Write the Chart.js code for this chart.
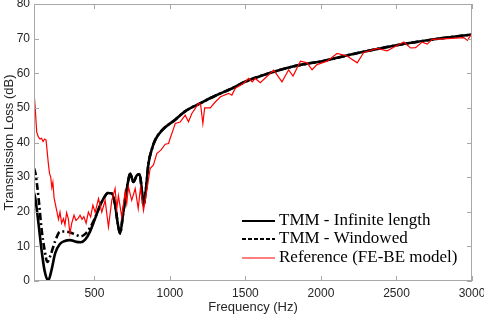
<!DOCTYPE html>
<html lang="en">
<head>
    <meta charset="UTF-8">
    <title>Transmission Loss</title>
    <script src="https://cdn.jsdelivr.net/npm/chart.js"></script>
    <style>
        body { margin: 0; background: #fff; }
        #wrap { width: 484px; height: 317px; }
    </style>
</head>
<body>
    <div id="wrap"><canvas id="tl"></canvas></div>

    <script>
        // TMM - Infinite length
        const freqInfinite = [100, 110, 130, 150, 170, 195, 215, 240, 270, 300, 340, 380, 410, 440, 470, 500, 530, 560, 590, 615, 635, 655, 670, 690, 715, 737, 758, 781, 800, 812, 825, 840, 858, 880, 902, 947, 1035, 1100, 1200, 1300, 1410, 1500, 1600, 1700, 1800, 1900, 2000, 2250, 2500, 2750, 3000];
        const tlInfinite = [25.5, 23.5, 16.5, 9, 3, 0.2, 3, 8, 10.6, 11.5, 11.8, 11.3, 11.2, 12, 14.2, 17.5, 21, 23.8, 25.4, 25.3, 22.5, 16.5, 13.7, 19.5, 26.7, 31, 28.6, 30.5, 30.8, 27, 21.9, 26, 33.9, 38, 40.7, 43.5, 46.6, 49, 51.3, 53.5, 55.6, 57.6, 59.2, 60.6, 61.8, 62.7, 63.4, 65.9, 68.1, 69.8, 71.2];

        // TMM - Windowed
        const freqWindowed = [100, 110, 130, 150, 170, 188, 210, 240, 272, 300, 340, 380, 410, 440, 470, 500, 530, 560, 590, 615, 635, 655, 670, 690, 715, 737, 758, 781, 800, 812, 825, 840, 858, 880, 902, 947, 1035, 1100, 1200, 1300, 1410, 1500, 1600, 1700, 1800, 1900, 2000, 2250, 2500, 2750, 3000];
        const tlWindowed = [32.5, 31, 24, 15, 9, 5.5, 7.5, 11.5, 14.2, 14.3, 14, 13.3, 12.9, 13.6, 15.3, 17.8, 21, 23.8, 25.4, 25.3, 22.5, 16.5, 13.7, 19.5, 26.7, 31, 28.6, 30.5, 30.8, 27, 21.9, 26, 33.9, 38, 40.7, 43.5, 46.6, 49, 51.3, 53.5, 55.6, 57.6, 59.2, 60.6, 61.8, 62.7, 63.4, 65.9, 68.1, 69.8, 71.2];

        // Reference (FE-BE model)
        const freqReference = [100, 108, 118, 129, 140, 150, 160, 170, 180, 195, 203, 211, 218, 225, 233, 250, 262, 272, 283, 295, 305, 316, 327, 338, 350, 365, 378, 392, 405, 418, 430, 445, 460, 475, 490, 505, 527, 549, 571, 593, 615, 637, 648, 659, 681, 703, 714, 725, 747, 770, 790, 805, 825, 847, 869, 891, 913, 940, 969, 991, 1000, 1024, 1035, 1068, 1101, 1123, 1145, 1170, 1189, 1203, 1218, 1230, 1267, 1300, 1335, 1388, 1410, 1433, 1488, 1521, 1545, 1565, 1598, 1640, 1687, 1742, 1786, 1815, 1864, 1908, 1941, 1974, 2040, 2107, 2173, 2240, 2283, 2372, 2438, 2482, 2549, 2593, 2626, 2670, 2704, 2736, 2836, 2946, 2969, 3000];
        const tlReference = [54.6, 50, 43, 41.6, 41, 41.2, 40.3, 41, 40.7, 33.9, 31, 30, 27, 28.5, 24, 20.4, 17.8, 19.9, 16.7, 18, 16.2, 19.7, 18, 13.7, 16.7, 19, 17.5, 18.1, 19, 17.8, 18.6, 16.7, 19.9, 18.5, 21.9, 19.8, 23.8, 19.9, 23.3, 15.6, 23.3, 26.7, 20.9, 24.6, 18.5, 25.7, 22.4, 27.2, 23.3, 26.7, 20.9, 27, 20.4, 26.2, 32.5, 33.5, 36.8, 37.8, 39.5, 39.7, 41, 44, 45.5, 45.9, 47.9, 46, 48.4, 50, 51.3, 51, 45.5, 50, 50, 51.7, 53.2, 54.2, 53.7, 55.7, 57.1, 58.5, 57.5, 58.5, 57.3, 59, 60.9, 57.5, 61, 59.2, 63.5, 63, 61, 62.5, 63.5, 65.7, 65, 63, 66, 67.2, 66.5, 67.5, 69, 67.3, 67.4, 69, 68.4, 69.8, 70, 70.3, 69.5, 71.5];

        const xTicks = [500, 1000, 1500, 2000, 2500, 3000];
        const yTicks = [0, 10, 20, 30, 40, 50, 60, 70, 80];

        function toPoints(xs, ys) {
            return xs.map((x, i) => ({ x: x, y: ys[i] }));
        }

        // box round the plot, with MATLAB-style inward ticks on all four sides
        const framePlugin = {
            id: 'frame',
            afterDatasetsDraw(chart) {
                const { ctx, chartArea: a, scales } = chart;
                ctx.save();
                ctx.strokeStyle = '#a8a8a8';
                ctx.lineWidth = 1;
                ctx.strokeRect(a.left + 0.5, a.top + 0.5, a.right - a.left - 1, a.bottom - a.top - 1);
                ctx.beginPath();
                xTicks.forEach(v => {
                    const px = Math.round(scales.x.getPixelForValue(v)) + 0.5;
                    ctx.moveTo(px, a.bottom); ctx.lineTo(px, a.bottom - 5);
                    ctx.moveTo(px, a.top); ctx.lineTo(px, a.top + 5);
                });
                yTicks.forEach(v => {
                    const py = Math.round(scales.y.getPixelForValue(v)) + 0.5;
                    ctx.moveTo(a.left, py); ctx.lineTo(a.left + 5, py);
                    ctx.moveTo(a.right, py); ctx.lineTo(a.right - 5, py);
                });
                ctx.stroke();
                ctx.restore();
            }
        };

        // legend drawn inside the lower right corner, no box
        const legendPlugin = {
            id: 'innerLegend',
            afterDraw(chart) {
                const { ctx, chartArea: a } = chart;
                const rows = [0, 1, 2].map(i => chart.data.datasets.find(d => d.legendIndex === i));
                ctx.save();
                ctx.font = '17px "Liberation Serif", serif';
                ctx.textBaseline = 'middle';
                ctx.fillStyle = '#000';
                rows.forEach((ds, i) => {
                    const y = Math.round(a.bottom - 60.5 + i * 18.7);
                    ctx.beginPath();
                    ctx.strokeStyle = ds.borderColor;
                    ctx.lineWidth = ds.legendWidth;
                    ctx.setLineDash(ds.legendDash || []);
                    ctx.moveTo(a.right - 230, y);
                    ctx.lineTo(a.right - 197, y);
                    ctx.stroke();
                    ctx.setLineDash([]);
                    ctx.fillText(ds.label, a.right - 193, y);
                });
                ctx.restore();
            }
        };

        const tickFont = { family: '"Liberation Sans", Arial, sans-serif', size: 12 };
        const titleFont = { family: '"Liberation Sans", Arial, sans-serif', size: 13 };

        new Chart(document.getElementById('tl'), {
            type: 'line',
            data: {
                datasets: [
                    {
                        label: 'Reference (FE-BE model)',
                        legendIndex: 2,
                        legendWidth: 1.2,
                        data: toPoints(freqReference, tlReference),
                        borderColor: '#ff0000',
                        borderWidth: 1.2,
                        tension: 0,
                        order: 1
                    },
                    {
                        label: 'TMM - Infinite length',
                        legendIndex: 0,
                        legendWidth: 2.2,
                        data: toPoints(freqInfinite, tlInfinite),
                        borderColor: '#000000',
                        borderWidth: 2.6,
                        cubicInterpolationMode: 'monotone',
                        order: 2
                    },
                    {
                        label: 'TMM - Windowed',
                        legendIndex: 1,
                        legendWidth: 2.2,
                        legendDash: [4, 2],
                        data: toPoints(freqWindowed, tlWindowed),
                        borderColor: '#000000',
                        borderWidth: 2.6,
                        borderDash: [7, 3, 2, 3],
                        cubicInterpolationMode: 'monotone',
                        order: 3
                    }
                ]
            },
            options: {
                responsive: true,
                maintainAspectRatio: false,
                animation: false,
                events: [],
                elements: { point: { radius: 0 } },
                layout: { padding: { left: 0, right: 12, top: 4, bottom: 0 } },
                plugins: {
                    legend: { display: false },
                    tooltip: { enabled: false }
                },
                scales: {
                    x: {
                        type: 'linear',
                        min: 100,
                        max: 3000,
                        afterBuildTicks: s => { s.ticks = xTicks.map(v => ({ value: v })); },
                        afterFit: s => { s.height = 36; s.paddingLeft = 0; s.paddingRight = 0; },
                        grid: { display: false, drawTicks: false },
                        border: { display: false },
                        ticks: {
                            color: '#262626',
                            padding: 5,
                            maxRotation: 0,
                            font: tickFont,
                            callback: v => String(v)
                        },
                        title: {
                            display: true,
                            text: 'Frequency (Hz)',
                            color: '#262626',
                            padding: { top: 2, bottom: 2 },
                            font: titleFont
                        }
                    },
                    y: {
                        min: 0,
                        max: 80,
                        afterBuildTicks: s => { s.ticks = yTicks.map(v => ({ value: v })); },
                        afterFit: s => { s.width = 34; s.paddingTop = 0; s.paddingBottom = 0; },
                        grid: { display: false, drawTicks: false },
                        border: { display: false },
                        ticks: {
                            color: '#262626',
                            padding: 4,
                            font: tickFont,
                            callback: v => String(v)
                        },
                        title: {
                            display: true,
                            text: 'Transmission Loss (dB)',
                            color: '#262626',
                            padding: { top: 2, bottom: 0 },
                            font: titleFont
                        }
                    }
                }
            },
            plugins: [framePlugin, legendPlugin]
        });
    </script>
</body>
</html>
